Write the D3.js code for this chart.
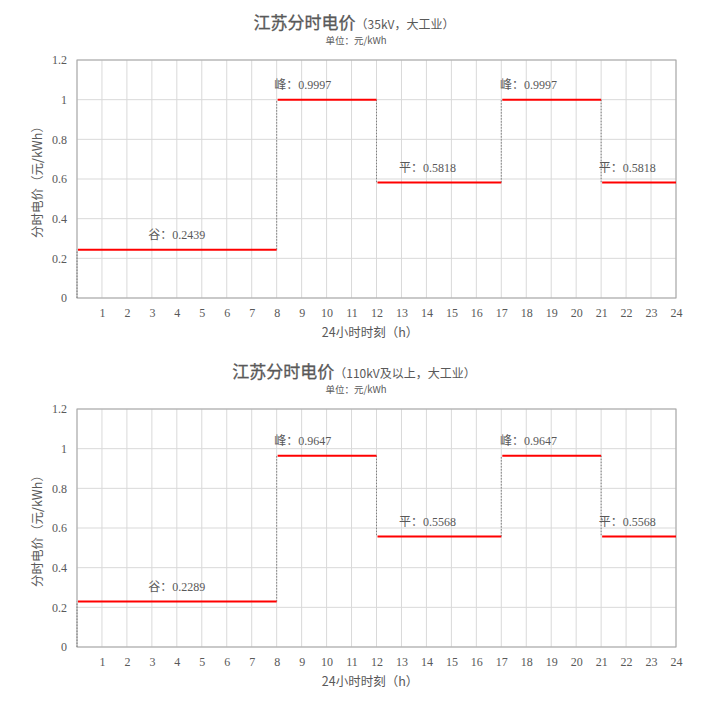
<!DOCTYPE html>
<html><head><meta charset="utf-8">
<script src="https://cdn.jsdelivr.net/npm/d3@7"></script>
<style>
body{margin:0;background:#fff;}
svg{display:block;}
</style></head>
<body><svg id="c" width="728" height="701"></svg>
<script>
const hours = d3.range(0, 25);
const xTickLabels = d3.range(1, 25);
const yTicks = [0, 0.2, 0.4, 0.6, 0.8, 1, 1.2];
const periodStarts = [0, 8, 12, 17, 21];
const periodEnds = [8, 12, 17, 21, 24];
const periodNames = ["谷", "峰", "平", "峰", "平"];
const labelStartHour = [2.85, 7.9, 12.9, 16.95, 20.9];
const prices35 = [0.2439, 0.9997, 0.5818, 0.9997, 0.5818];
const prices110 = [0.2289, 0.9647, 0.5568, 0.9647, 0.5568];
const titleMain = "江苏分时电价";
const subtitles = ["（35kV，大工业）", "（110kV及以上，大工业）"];
const unitText = "单位：元/kWh";
const yTitle = "分时电价（元/kWh）";
const xTitle = "24小时时刻（h）";

const svg = d3.select("#c");
const textCol = "#595959";
const serif = "'Liberation Serif','Times New Roman',serif";
const sans = "'Noto Sans CJK SC','Noto Sans',sans-serif";

function drawChart(prices, sub, top) {
  const plotTop = top + 60, plotBottom = top + 298;
  const x = d3.scaleLinear().domain([0, 24]).range([77, 676]);
  const y = d3.scaleLinear().domain([0, 1.2]).range([plotBottom, plotTop]);
  const g = svg.append("g");

  // title
  const t = g.append("text").attr("x", 354).attr("y", top + 29).attr("text-anchor", "middle")
    .attr("fill", textCol).attr("font-family", sans);
  t.append("tspan").attr("font-size", 17).attr("font-weight", "normal").attr("stroke", textCol).attr("stroke-width", 0.3).text(titleMain);
  t.append("tspan").attr("font-size", 12).text(sub);
  g.append("text").attr("x", 356).attr("y", top + 44).attr("text-anchor", "middle")
    .attr("fill", textCol).attr("font-family", sans).attr("font-size", 9.5).text(unitText);

  // grid
  g.append("g").selectAll("line").data(hours).join("line")
    .attr("x1", d => x(d)).attr("x2", d => x(d)).attr("y1", plotTop).attr("y2", plotBottom)
    .attr("stroke", "#d9d9d9").attr("stroke-width", 1);
  g.append("g").selectAll("line").data(yTicks).join("line")
    .attr("x1", x(0)).attr("x2", x(24)).attr("y1", d => y(d)).attr("y2", d => y(d))
    .attr("stroke", "#d9d9d9").attr("stroke-width", 1);
  g.append("rect").attr("x", x(0)).attr("y", plotTop).attr("width", x(24) - x(0))
    .attr("height", plotBottom - plotTop).attr("fill", "none").attr("stroke", "#a6a6a6").attr("stroke-width", 1);

  // y axis
  const ya = d3.axisLeft(y).tickValues(yTicks).tickSize(0).tickPadding(10).tickFormat(d3.format("~g"));
  const yg = g.append("g").attr("transform", `translate(${x(0)},0)`).call(ya);
  yg.select(".domain").remove();
  yg.selectAll("text").attr("fill", textCol).attr("font-family", serif).attr("font-size", 12);

  // x axis
  const xa = d3.axisBottom(x).tickValues(xTickLabels).tickSize(0).tickPadding(10);
  const xg = g.append("g").attr("transform", `translate(0,${plotBottom})`).call(xa);
  xg.select(".domain").remove();
  xg.selectAll("text").attr("fill", textCol).attr("font-family", serif).attr("font-size", 12);

  // axis titles
  g.append("text").attr("transform", `translate(42,${(plotTop + plotBottom) / 2}) rotate(-90)`)
    .attr("text-anchor", "middle").attr("fill", textCol).attr("font-family", sans).attr("font-size", 12.5).text(yTitle);
  g.append("text").attr("x", 370).attr("y", plotBottom + 39).attr("text-anchor", "middle")
    .attr("fill", textCol).attr("font-family", sans).attr("font-size", 12.5).text(xTitle);

  // dotted connectors
  const conn = [{h: 0, a: 0, b: prices[0]}];
  for (let i = 1; i < prices.length; i++) conn.push({h: periodStarts[i], a: prices[i - 1], b: prices[i]});
  g.append("g").selectAll("line").data(conn).join("line")
    .attr("x1", d => x(d.h)).attr("x2", d => x(d.h)).attr("y1", d => y(d.a)).attr("y2", d => y(d.b))
    .attr("stroke", "#7f7f7f").attr("stroke-width", 1).attr("stroke-dasharray", "1.5,1.5");

  // red segments
  g.append("g").selectAll("line").data(prices).join("line")
    .attr("x1", (d, i) => x(periodStarts[i]) + 1).attr("x2", (d, i) => x(periodEnds[i]))
    .attr("y1", d => y(d)).attr("y2", d => y(d))
    .attr("stroke", "#ff0000").attr("stroke-width", 2);

  // labels
  const lab = g.append("g").selectAll("text").data(prices).join("text")
    .attr("x", (d, i) => x(labelStartHour[i])).attr("y", d => y(d) - 11)
    .attr("fill", textCol).attr("font-size", 12);
  lab.append("tspan").attr("font-family", sans).text((d, i) => periodNames[i] + "：");
  lab.append("tspan").attr("font-family", serif).text(d => d.toFixed(4));
}

drawChart(prices35, subtitles[0], 0);
drawChart(prices110, subtitles[1], 349);
</script></body></html>
